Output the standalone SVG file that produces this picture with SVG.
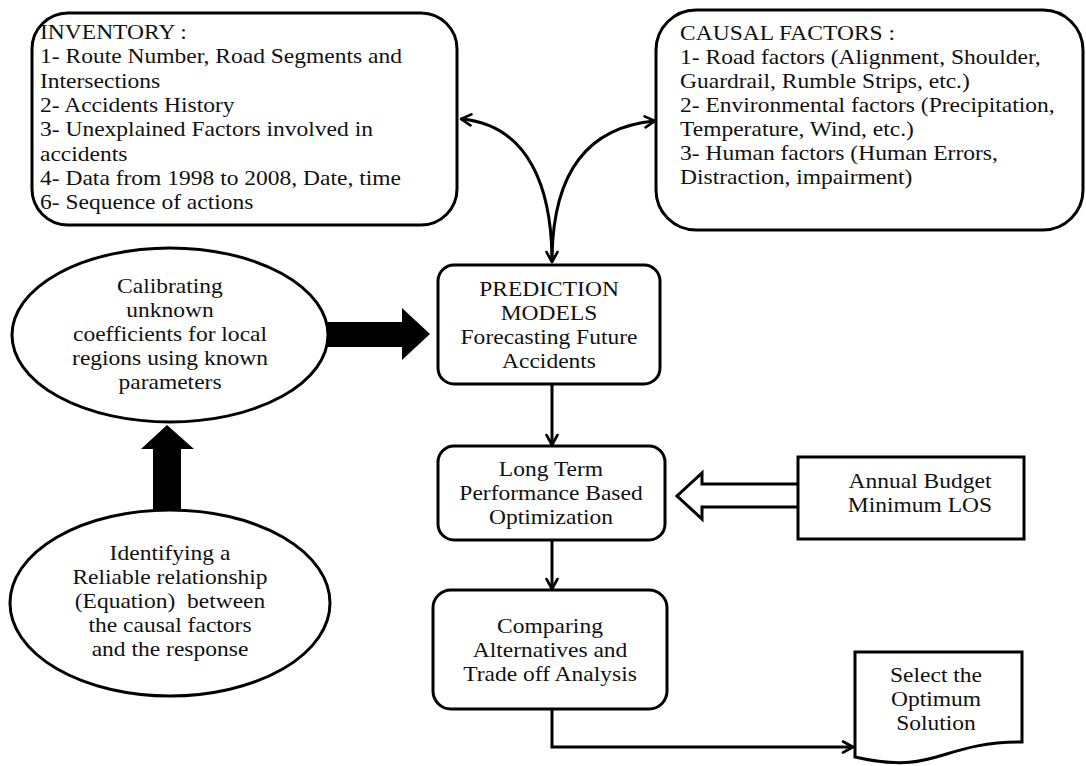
<svg xmlns="http://www.w3.org/2000/svg" width="1086" height="766" viewBox="0 0 1086 766">
<defs>
<style>
.box{fill:#fff;stroke:#000;stroke-width:3}
.t{font-family:"Liberation Serif","Times New Roman",serif;font-size:21px;fill:#111}
.c{text-anchor:middle}
.con{fill:none;stroke:#000;stroke-width:3}
.thick{fill:#000;stroke:none}
</style>
<marker id="ah" viewBox="0 0 14 14" refX="12" refY="7" markerWidth="14" markerHeight="14" markerUnits="userSpaceOnUse" orient="auto-start-reverse">
<path d="M2,1.5 L12,7 L2,12.5" fill="none" stroke="#000" stroke-width="2.6" stroke-linecap="round" stroke-linejoin="round"/>
</marker>
</defs>
<rect width="1086" height="766" fill="#fff"/>

<g id="connectors">
<path class="con" d="M461,119 C530,125 552,190 552,262" marker-start="url(#ah)" marker-end="url(#ah)"/>
<path class="con" d="M552,262 C552,190 575,128 655,121" marker-end="url(#ah)"/>
<line class="con" x1="552" y1="384" x2="552" y2="445" marker-end="url(#ah)"/>
<line class="con" x1="552" y1="540" x2="552" y2="589" marker-end="url(#ah)"/>
<path class="con" d="M552,709 V747 H853" marker-end="url(#ah)"/>
<path class="thick" d="M325,322 H402 V308 L430,334 L402,360 V347 H325 Z"/>
<path class="thick" d="M153,512 V449 H141 L167,425 L194,449 H181 V512 Z"/>
<path fill="#fff" stroke="#000" stroke-width="3" stroke-linejoin="miter" d="M798,484 H702 V473 L677,496 L702,519 V507 H798"/>
</g>

<g id="inventory">
<rect class="box" x="32" y="13" width="425" height="212" rx="36" ry="36"/>
<g transform="translate(40,0) scale(1.12,1)">
<text class="t" x="0" y="39">INVENTORY :</text>
<text class="t" x="0" y="63">1- Route Number, Road Segments and</text>
<text class="t" x="0" y="88">Intersections</text>
<text class="t" x="0" y="112">2- Accidents History</text>
<text class="t" x="0" y="136">3- Unexplained Factors involved in</text>
<text class="t" x="0" y="161">accidents</text>
<text class="t" x="0" y="185">4- Data from 1998 to 2008, Date, time</text>
<text class="t" x="0" y="209">6- Sequence of actions</text>
</g>
</g>

<g id="causal">
<rect class="box" x="656" y="10" width="427" height="220" rx="40" ry="40"/>
<g transform="translate(680,0) scale(1.12,1)">
<text class="t" x="0" y="40">CAUSAL FACTORS :</text>
<text class="t" x="0" y="64">1- Road factors (Alignment, Shoulder,</text>
<text class="t" x="0" y="88">Guardrail, Rumble Strips, etc.)</text>
<text class="t" x="0" y="112">2- Environmental factors (Precipitation,</text>
<text class="t" x="0" y="136">Temperature, Wind, etc.)</text>
<text class="t" x="0" y="160">3- Human factors (Human Errors,</text>
<text class="t" x="0" y="184">Distraction, impairment)</text>
</g>
</g>

<g id="prediction">
<rect class="box" x="438" y="265" width="222" height="119" rx="16" ry="16"/>
<g transform="translate(549,0) scale(1.12,1)">
<text class="t c" x="0" y="296">PREDICTION</text>
<text class="t c" x="0" y="320">MODELS</text>
<text class="t c" x="0" y="344">Forecasting Future</text>
<text class="t c" x="0" y="368">Accidents</text>
</g>
</g>

<g id="longterm">
<rect class="box" x="438" y="446" width="227" height="94" rx="16" ry="16"/>
<g transform="translate(551,0) scale(1.12,1)">
<text class="t c" x="0" y="476">Long Term</text>
<text class="t c" x="0" y="500">Performance Based</text>
<text class="t c" x="0" y="524">Optimization</text>
</g>
</g>

<g id="comparing">
<rect class="box" x="433" y="590" width="234" height="119" rx="18" ry="18"/>
<g transform="translate(550,0) scale(1.12,1)">
<text class="t c" x="0" y="633">Comparing</text>
<text class="t c" x="0" y="657">Alternatives and</text>
<text class="t c" x="0" y="681">Trade off Analysis</text>
</g>
</g>

<g id="budget">
<rect class="box" x="798" y="457" width="226" height="82"/>
<g transform="translate(920,0) scale(1.12,1)">
<text class="t c" x="0" y="488">Annual Budget</text>
<text class="t c" x="0" y="512">Minimum LOS</text>
</g>
</g>

<g id="select">
<path class="box" d="M855,652 H1022 V742 C938,742 938,776 855,757 Z"/>
<g transform="translate(936,0) scale(1.12,1)">
<text class="t c" x="0" y="682">Select the</text>
<text class="t c" x="0" y="706">Optimum</text>
<text class="t c" x="0" y="730">Solution</text>
</g>
</g>

<g id="calibrating">
<ellipse class="box" cx="170" cy="335" rx="158" ry="87"/>
<g transform="translate(170,0) scale(1.12,1)">
<text class="t c" x="0" y="293">Calibrating</text>
<text class="t c" x="0" y="317">unknown</text>
<text class="t c" x="0" y="341">coefficients for local</text>
<text class="t c" x="0" y="365">regions using known</text>
<text class="t c" x="0" y="389">parameters</text>
</g>
</g>

<g id="identifying">
<ellipse class="box" cx="170" cy="603" rx="160" ry="93"/>
<g transform="translate(170,0) scale(1.12,1)">
<text class="t c" x="0" y="560">Identifying a</text>
<text class="t c" x="0" y="584">Reliable relationship</text>
<text class="t c" x="0" y="608">(Equation)&#160; between</text>
<text class="t c" x="0" y="632">the causal factors</text>
<text class="t c" x="0" y="656">and the response</text>
</g>
</g>
</svg>
